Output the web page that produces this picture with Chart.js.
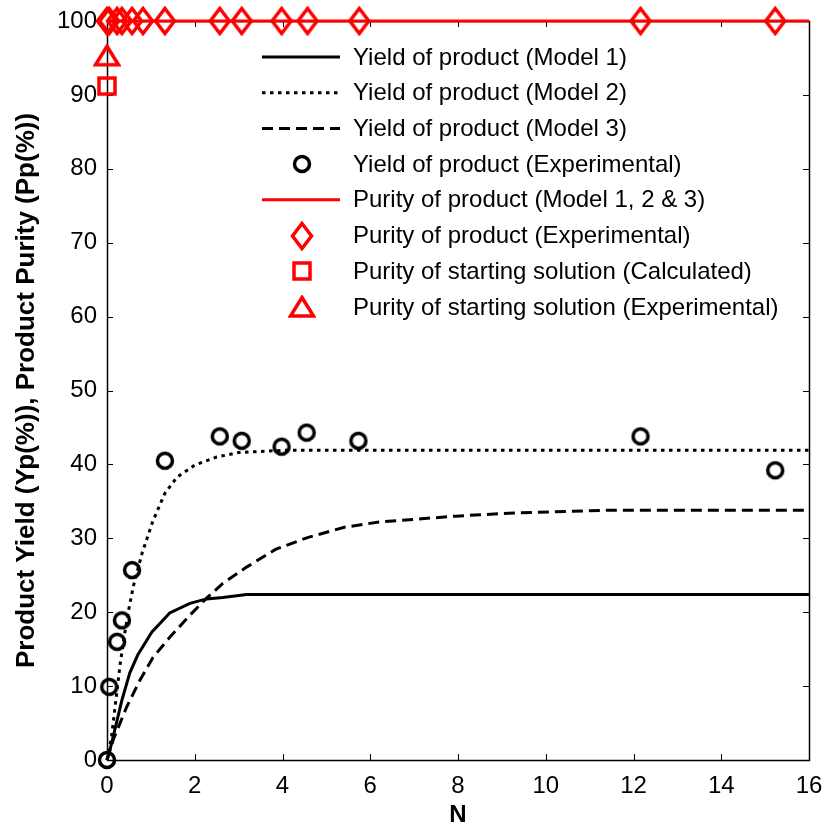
<!DOCTYPE html>
<html>
<head>
<meta charset="utf-8">
<script src="https://cdn.jsdelivr.net/npm/chart.js@4.4.1/dist/chart.umd.min.js"></script>
<style>
  html, body { margin: 0; padding: 0; background: #fff; }
  #wrap { width: 827px; height: 831px; }
</style>
</head>
<body>
<div id="wrap"><canvas id="canvas"></canvas></div>
<script>
// ---- data ----
const xTicks = [0, 2, 4, 6, 8, 10, 12, 14, 16];
const yTicks = [0, 10, 20, 30, 40, 50, 60, 70, 80, 90, 100];

const model1N = [0, 0.07, 0.34, 0.52, 0.7, 1.02, 1.43, 1.89, 2.27, 2.64, 3.18, 16];
const model1Y = [0, 1.4, 8.1, 11.8, 14.2, 17.3, 19.9, 21.2, 21.8, 22.0, 22.4, 22.4];

const model2N = [0, 0.1, 0.2, 0.3, 0.4, 0.5, 0.6, 0.8, 1.05, 1.32, 1.6, 2.0, 2.5, 3.0, 4.0, 16];
const model2Y = [0, 3, 8, 13, 17, 20.5, 23.5, 28, 32.4, 36.1, 38.3, 39.9, 41, 41.6, 41.9, 41.9];

const model3N = [0, 0.14, 0.45, 0.75, 1.05, 1.43, 1.89, 2.27, 2.64, 3.18, 3.84, 4.57, 5.41, 6.2, 7.95, 9.16, 11.4, 16];
const model3Y = [0, 2.7, 7.2, 10.8, 13.9, 16.6, 19.6, 21.9, 23.9, 26.1, 28.5, 30.1, 31.5, 32.2, 33.0, 33.4, 33.8, 33.8];

const expYieldN = [0, 0.05, 0.23, 0.34, 0.57, 1.32, 2.57, 3.07, 3.98, 4.55, 5.73, 12.16, 15.23];
const expYieldY = [0, 9.9, 16, 18.9, 25.7, 40.5, 43.8, 43.2, 42.4, 44.3, 43.2, 43.8, 39.2];

const purityModelN = [0, 16];
const purityModelP = [100, 100];

const expPurityN = [0, 0.05, 0.23, 0.34, 0.57, 0.82, 1.32, 2.57, 3.07, 3.98, 4.57, 5.75, 12.16, 15.23];
const expPurityP = [100, 100, 100, 100, 100, 100, 100, 100, 100, 100, 100, 100, 100, 100];

const startCalcN = [0];
const startCalcP = [91.2];
const startExpN = [0];
const startExpP = [95.3];

const labels = [
  'Yield of product (Model 1)',
  'Yield of product (Model 2)',
  'Yield of product (Model 3)',
  'Yield of product (Experimental)',
  'Purity of product (Model 1, 2 & 3)',
  'Purity of product (Experimental)',
  'Purity of starting solution (Calculated)',
  'Purity of starting solution (Experimental)'
];

function pts(xs, ys) {
  return xs.map(function(x, i) { return { x: x, y: ys[i] }; });
}

// ---- marker images ----
function marker(w, h, color, draw) {
  const c = document.createElement('canvas');
  c.width = w; c.height = h;
  const g = c.getContext('2d');
  g.strokeStyle = color;
  g.lineWidth = 3.5;
  g.beginPath();
  draw(g, w, h);
  g.stroke();
  return c;
}
const circleImg = marker(22, 22, '#000', function(g, w, h) { g.arc(w / 2, h / 2, 7.5, 0, Math.PI * 2); });
const diamondImg = marker(24, 30, '#ff0000', function(g, w, h) {
  g.moveTo(w / 2, 2.5); g.lineTo(w - 2.5, h / 2); g.lineTo(w / 2, h - 2.5); g.lineTo(2.5, h / 2); g.closePath();
});
const squareImg = marker(22, 22, '#ff0000', function(g, w, h) { g.rect(3, 3, w - 6, h - 6); });
const triangleImg = marker(28, 24, '#ff0000', function(g, w, h) {
  g.moveTo(w / 2, 2.5); g.lineTo(w - 2.5, h - 3); g.lineTo(2.5, h - 3); g.closePath();
});

function lineSet(label, data, color, dash) {
  return {
    label: label, data: data, showLine: true, borderColor: color, borderWidth: 3,
    borderDash: dash, pointRadius: 0, pointHoverRadius: 0, fill: false, clip: false
  };
}
function pointSet(label, data, img) {
  return {
    label: label, data: data, showLine: false, pointStyle: img, pointRadius: 10,
    borderColor: 'transparent', backgroundColor: 'transparent', clip: false
  };
}

function drawFrame(chart) {
  const ctx = chart.ctx;
  const a = chart.chartArea;
  ctx.save();
  ctx.strokeStyle = '#000';
  ctx.lineWidth = 1.5;
  ctx.strokeRect(Math.round(a.left) + 0.5, Math.round(a.top) + 0.5, Math.round(a.right - a.left), Math.round(a.bottom - a.top));
  ctx.restore();
}

// inward ticks on all four sides plus frame
const framePlugin = {
  id: 'frame',
  beforeDatasetsDraw: function(chart) {
    drawFrame(chart);
    const ctx = chart.ctx;
    const a = chart.chartArea;
    const xs = chart.scales.x, ys = chart.scales.y;
    ctx.save();
    ctx.strokeStyle = '#000';
    ctx.lineWidth = 1;
    ctx.beginPath();
    xTicks.forEach(function(v) {
      const px = Math.round(xs.getPixelForValue(v)) + 0.5;
      ctx.moveTo(px, a.bottom); ctx.lineTo(px, a.bottom - 6);
      ctx.moveTo(px, a.top); ctx.lineTo(px, a.top + 6);
    });
    yTicks.forEach(function(v) {
      const py = Math.round(ys.getPixelForValue(v)) + 0.5;
      ctx.moveTo(a.left, py); ctx.lineTo(a.left + 6, py);
      ctx.moveTo(a.right, py); ctx.lineTo(a.right - 6, py);
    });
    ctx.stroke();
    ctx.restore();
  }
};

// legend drawn inside the plot, no box
const legendPlugin = {
  id: 'insideLegend',
  afterDraw: function(chart) {
    const ctx = chart.ctx;
    const x0 = 262, x1 = 340, tx = 353, y0 = 57, step = 35.7;
    ctx.save();
    ctx.font = '24px "Liberation Sans", Arial, sans-serif';
    ctx.textBaseline = 'middle';
    ctx.fillStyle = '#000';
    chart.data.datasets.forEach(function(ds, i) {
      const y = y0 + i * step;
      if (ds.showLine) {
        ctx.strokeStyle = ds.borderColor;
        ctx.lineWidth = ds.borderWidth;
        ctx.setLineDash(ds.borderDash || []);
        ctx.beginPath();
        ctx.moveTo(x0, y); ctx.lineTo(x1, y);
        ctx.stroke();
        ctx.setLineDash([]);
      } else {
        const img = ds.pointStyle;
        ctx.drawImage(img, Math.round(302 - img.width / 2), Math.round(y - img.height / 2));
      }
      ctx.fillText(ds.label, tx, y + 1);
    });
    ctx.restore();
  }
};

const canvas = document.getElementById('canvas');
const myChart = new Chart(canvas, {
  type: 'scatter',
  data: {
    datasets: [
      lineSet(labels[0], pts(model1N, model1Y), '#000', []),
      lineSet(labels[1], pts(model2N, model2Y), '#000', [3.5, 4.5]),
      lineSet(labels[2], pts(model3N, model3Y), '#000', [11, 6]),
      pointSet(labels[3], pts(expYieldN, expYieldY), circleImg),
      lineSet(labels[4], pts(purityModelN, purityModelP), '#ff0000', []),
      pointSet(labels[5], pts(expPurityN, expPurityP), diamondImg),
      pointSet(labels[6], pts(startCalcN, startCalcP), squareImg),
      pointSet(labels[7], pts(startExpN, startExpP), triangleImg)
    ]
  },
  options: {
    responsive: true,
    maintainAspectRatio: false,
    animation: false,
    layout: { padding: { top: 21, right: 18, left: 0, bottom: 0 } },
    plugins: {
      legend: { display: false },
      tooltip: { enabled: false }
    },
    scales: {
      x: {
        type: 'linear',
        min: 0, max: 16,
        afterBuildTicks: function(s) { s.ticks = xTicks.map(function(v) { return { value: v }; }); },
        afterFit: function(s) { s.height = 71; s.paddingLeft = 0; s.paddingRight = 0; },
        grid: { display: false, drawTicks: false },
        border: { display: false },
        ticks: { color: '#000', padding: 12, font: { family: '"Liberation Sans", Arial, sans-serif', size: 24 }, maxRotation: 0 },
        title: { display: true, text: 'N', color: '#000', padding: { top: 0, bottom: 1 },
          font: { family: '"Liberation Sans", Arial, sans-serif', size: 24, weight: 'bold' } }
      },
      y: {
        type: 'linear',
        min: 0, max: 100,
        afterBuildTicks: function(s) { s.ticks = yTicks.map(function(v) { return { value: v }; }); },
        afterFit: function(s) { s.width = 107; s.paddingTop = 0; s.paddingBottom = 0; },
        grid: { display: false, drawTicks: false },
        border: { display: false },
        ticks: { color: '#000', padding: 10, font: { family: '"Liberation Sans", Arial, sans-serif', size: 24 } },
        title: { display: true, text: 'Product Yield (Yp(%)), Product Purity (Pp(%))', color: '#000',
          padding: { top: 11, bottom: 0 },
          font: { family: '"Liberation Sans", Arial, sans-serif', size: 26, weight: 'bold' } }
      }
    }
  },
  plugins: [framePlugin, legendPlugin]
});
</script>
</body>
</html>
